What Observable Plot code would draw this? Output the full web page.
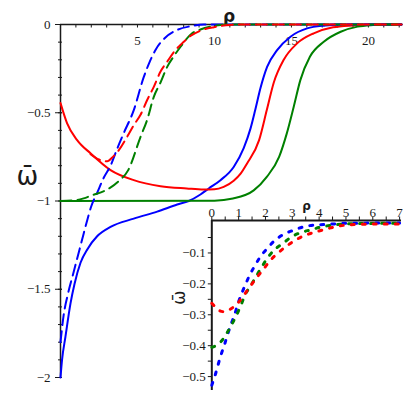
<!DOCTYPE html>
<html><head><meta charset="utf-8">
<script src="https://cdn.jsdelivr.net/npm/d3@7"></script>
<script src="https://cdn.jsdelivr.net/npm/@observablehq/plot@0.6"></script>
<style>
body{margin:0;background:#fff}
#wrap{position:relative;width:409px;height:394px}
#main{position:absolute;left:0;top:0}
#inset{position:absolute;left:150px;top:190px}
</style>
</head><body><div id="wrap"><div id="main"></div><div id="inset"></div></div>
<script>
// ---------- main panel data (rho, omega-bar) ----------
const solidBlueRho = [0, 0.1, 0.32, 0.65, 0.91, 1.3, 1.77, 2.38, 3.25, 4.76, 6.28, 7.58, 8.33, 9.09, 9.63, 10.39, 11.25, 11.9, 12.34, 12.66, 12.99, 13.42, 14.07, 14.94, 16.02, 17.2, 18.5, 22.15];
const solidBlueOmega = [-2, -1.9, -1.77, -1.58, -1.47, -1.35, -1.27, -1.2, -1.147, -1.1, -1.06, -1.02, -1.0, -0.963, -0.929, -0.882, -0.807, -0.7, -0.59, -0.48, -0.36, -0.24, -0.145, -0.069, -0.022, -0.006, 0, 0];

const solidRedRho = [0, 0.43, 1.08, 1.95, 3.25, 4.76, 6.5, 8.2, 9.3, 10.0, 10.6, 11.25, 11.7, 12.1, 12.9, 13.4, 13.85, 14.5, 15.37, 16.45, 17.7, 19, 20.5, 22.15];
const solidRedOmega = [-0.445, -0.56, -0.655, -0.73, -0.825, -0.882, -0.916, -0.929, -0.935, -0.934, -0.92, -0.885, -0.845, -0.79, -0.655, -0.485, -0.33, -0.2, -0.107, -0.05, -0.016, -0.005, 0, 0];

const solidGreenRho = [0, 10, 11.2, 12.55, 13.4, 14.2, 14.7, 15.15, 15.58, 16.2, 17.1, 18.2, 19.3, 20.3, 21.2, 22.15];
const solidGreenOmega = [-1, -0.998, -0.986, -0.94, -0.863, -0.75, -0.617, -0.466, -0.315, -0.183, -0.098, -0.041, -0.012, -0.003, 0, 0];

const dashBlueRho = [0, 0.2, 0.5, 0.8, 1.1, 1.4, 1.7, 2.0, 2.4, 2.8, 3.25, 3.7, 4.1, 4.76, 5.4, 5.8, 6.2, 6.8, 7.6, 8.44, 9.3, 22.15];
const dashBlueOmega = [-1.8, -1.65, -1.52, -1.42, -1.32, -1.22, -1.12, -1.03, -0.95, -0.87, -0.8, -0.7, -0.617, -0.485, -0.3, -0.21, -0.14, -0.075, -0.03, -0.01, 0, 0];

const dashGreenRho = [0, 1.0, 1.5, 2.06, 2.92, 3.8, 4.4, 5.2, 5.63, 6.06, 6.49, 6.93, 7.36, 7.8, 8.55, 9.09, 9.74, 10.4, 11, 22.15];
const dashGreenOmega = [-1, -0.995, -0.985, -0.967, -0.94, -0.886, -0.825, -0.636, -0.54, -0.41, -0.33, -0.24, -0.18, -0.126, -0.05, -0.028, -0.012, -0.003, 0, 0];

const dashRedRho = [1.95, 2.5, 3.03, 3.4, 3.79, 4.33, 4.76, 5.19, 5.63, 6.06, 6.49, 6.93, 7.47, 7.9, 8.44, 9.09, 9.96, 11, 12, 22.15];
const dashRedOmega = [-0.735, -0.765, -0.775, -0.75, -0.712, -0.636, -0.57, -0.513, -0.428, -0.353, -0.268, -0.211, -0.145, -0.107, -0.065, -0.035, -0.015, -0.003, 0, 0];

// main ticks
const mainXMinor = d3.range(0, 23, 1);
const mainXLabels = [5, 10, 15, 20];
const mainYMinor = d3.range(0, 21, 1).map(i => -i / 10);
const mainYLabels = [0, -0.5, -1, -1.5, -2];

// ---------- inset data ----------
const inBlueRho = [0, 0.13, 0.24, 0.35, 0.48, 0.59, 0.72, 0.86, 0.97, 1.10, 1.25, 1.41, 1.60, 1.81, 2.06, 2.33, 2.65, 3.03, 3.40, 3.79, 4.16, 4.60, 4.97, 5.5, 6.0, 6.5, 7.0];
const inBlueOmega = [-0.528, -0.494, -0.46, -0.428, -0.395, -0.363, -0.33, -0.297, -0.265, -0.234, -0.203, -0.172, -0.142, -0.112, -0.086, -0.061, -0.041, -0.027, -0.016, -0.01, -0.008, -0.006, -0.004, -0.004, -0.003, -0.003, -0.003];

const inGreenRho = [0, 0.15, 0.35, 0.57, 0.76, 0.94, 1.10, 1.25, 1.45, 1.65, 1.85, 2.07, 2.33, 2.64, 2.97, 3.32, 3.70, 4.07, 4.48, 4.85, 5.5, 6.0, 6.5, 7.0];
const inGreenOmega = [-0.405, -0.4, -0.386, -0.358, -0.329, -0.298, -0.266, -0.234, -0.206, -0.176, -0.147, -0.117, -0.09, -0.07, -0.048, -0.034, -0.025, -0.016, -0.01, -0.007, -0.005, -0.005, -0.004, -0.004];

const inRedRho = [0, 0.15, 0.30, 0.45, 0.67, 0.97, 1.22, 1.45, 1.69, 1.93, 2.16, 2.47, 2.74, 3.07, 3.42, 3.79, 4.16, 4.57, 4.97, 5.38, 5.78, 6.3, 7.0];
const inRedOmega = [-0.263, -0.276, -0.287, -0.29, -0.283, -0.262, -0.234, -0.206, -0.178, -0.152, -0.126, -0.1, -0.081, -0.061, -0.045, -0.034, -0.025, -0.016, -0.01, -0.008, -0.007, -0.006, -0.006];

const inXMinor = d3.range(0, 15, 1).map(i => i / 2);
const inXLabels = [0, 1, 2, 3, 4, 5, 6, 7];
const inYMinor = d3.range(1, 11, 1).map(i => -i / 20);
const inYLabels = [-0.1, -0.2, -0.3, -0.4, -0.5];

const BLUE = "#0000ff", RED = "#ff0000", GREEN = "#008000", INK = "#1a1a1a";
const pts = (r, o) => r.map((v, i) => ({rho: v, omega: o[i]}));
const fmt = d => d === 0 ? "0" : "\u2212" + Math.abs(d);
const serif = "Liberation Serif";

// ---------- main plot ----------
const main = Plot.plot({
  width: 409, height: 394,
  marginLeft: 60, marginRight: 8, marginTop: 24, marginBottom: 17,
  x: {domain: [0, 22.15], axis: null},
  y: {domain: [-2, 0], axis: null},
  style: {background: "transparent", overflow: "visible"},
  marks: [
    Plot.ruleY([0], {stroke: INK, strokeWidth: 1.5}),
    Plot.ruleX([0], {stroke: INK, strokeWidth: 1.5}),
    Plot.ruleX(mainXMinor, {x: d => d, y1: 0, y2: 0, insetTop: 0, insetBottom: -3.5, stroke: INK, strokeWidth: 1}),
    Plot.ruleY(mainYMinor, {y: d => d, x1: 0, x2: 0, insetLeft: -2, insetRight: -2, stroke: INK, strokeWidth: 1}),
    Plot.ruleY(mainYLabels, {y: d => d, x1: 0, x2: 0, insetLeft: -5, insetRight: -2, stroke: INK, strokeWidth: 1}),
    Plot.text(mainXLabels, {x: d => d, y: 0, text: d => String(d), dy: 16, fontFamily: serif, fontSize: 13, fill: INK}),
    Plot.text(mainYLabels, {x: 0, y: d => d, text: fmt, dx: -10, textAnchor: "end", fontFamily: serif, fontSize: 13, fill: INK}),
    Plot.text(["\u03c1"], {frameAnchor: "top", dx: -2, dy: -15, fontFamily: "DejaVu Sans", fontWeight: "bold", fontSize: 17, fill: INK}),
    Plot.text(["\u03c9\u0304"], {frameAnchor: "left", textAnchor: "middle", dx: -33, dy: -24, fontFamily: "DejaVu Sans", fontSize: 26, fill: INK}),
    Plot.line(pts(solidBlueRho, solidBlueOmega), {x: "rho", y: "omega", stroke: BLUE, strokeWidth: 2, curve: "monotone-x"}),
    Plot.line(pts(solidRedRho, solidRedOmega), {x: "rho", y: "omega", stroke: RED, strokeWidth: 2, curve: "monotone-x"}),
    Plot.line(pts(solidGreenRho, solidGreenOmega), {x: "rho", y: "omega", stroke: GREEN, strokeWidth: 2, curve: "monotone-x"}),
    Plot.line(pts(dashBlueRho, dashBlueOmega), {x: "rho", y: "omega", stroke: BLUE, strokeWidth: 2, strokeDasharray: "11,6", curve: "monotone-x"}),
    Plot.line(pts(dashGreenRho, dashGreenOmega), {x: "rho", y: "omega", stroke: GREEN, strokeWidth: 2, strokeDasharray: "11,6", curve: "monotone-x"}),
    Plot.line(pts(dashRedRho, dashRedOmega), {x: "rho", y: "omega", stroke: RED, strokeWidth: 2, strokeDasharray: "11,6", curve: "monotone-x"})
  ]
});
document.getElementById("main").appendChild(main);

// ---------- inset plot ----------
const yTop = 0.005;
const inset = Plot.plot({
  width: 259, height: 204,
  marginLeft: 61.3, marginRight: 8, marginTop: 30, marginBottom: 4,
  x: {domain: [0, 7.07], axis: null},
  y: {domain: [-0.545, yTop], axis: null},
  style: {background: "transparent", overflow: "visible"},
  marks: [
    Plot.ruleY([yTop], {stroke: INK, strokeWidth: 2}),
    Plot.ruleX([0], {stroke: INK, strokeWidth: 2}),
    Plot.ruleX(inXMinor, {x: d => d, y1: yTop, y2: yTop, insetTop: -3.5, insetBottom: 0, stroke: INK, strokeWidth: 1}),
    Plot.ruleY(inYMinor, {y: d => d, x1: 0, x2: 0, insetLeft: -3.5, insetRight: 0, stroke: INK, strokeWidth: 1}),
    Plot.text(inXLabels, {x: d => d, y: yTop, text: d => String(d), dy: -8, fontFamily: serif, fontSize: 13, fill: INK}),
    Plot.text(inYLabels, {x: 0, y: d => d, text: fmt, dx: -6, textAnchor: "end", fontFamily: serif, fontSize: 13, fill: INK}),
    Plot.text(["\u03c1"], {frameAnchor: "top", dy: -19, fontFamily: "DejaVu Sans", fontWeight: "bold", fontSize: 12, fill: INK}),
    Plot.text(["\u03c9\u0304"], {frameAnchor: "left", textAnchor: "middle", dx: -32, dy: -8, rotate: -90, fontFamily: "DejaVu Sans", fontSize: 17, fill: INK}),
    Plot.line(pts(inBlueRho, inBlueOmega), {x: "rho", y: "omega", stroke: BLUE, strokeWidth: 3, strokeDasharray: "3,8", curve: "monotone-x"}),
    Plot.line(pts(inGreenRho, inGreenOmega), {x: "rho", y: "omega", stroke: GREEN, strokeWidth: 3, strokeDasharray: "3,8", curve: "monotone-x"}),
    Plot.line(pts(inRedRho, inRedOmega), {x: "rho", y: "omega", stroke: RED, strokeWidth: 3, strokeDasharray: "3,8", curve: "monotone-x"})
  ]
});
document.getElementById("inset").appendChild(inset);
</script>
</body></html>
